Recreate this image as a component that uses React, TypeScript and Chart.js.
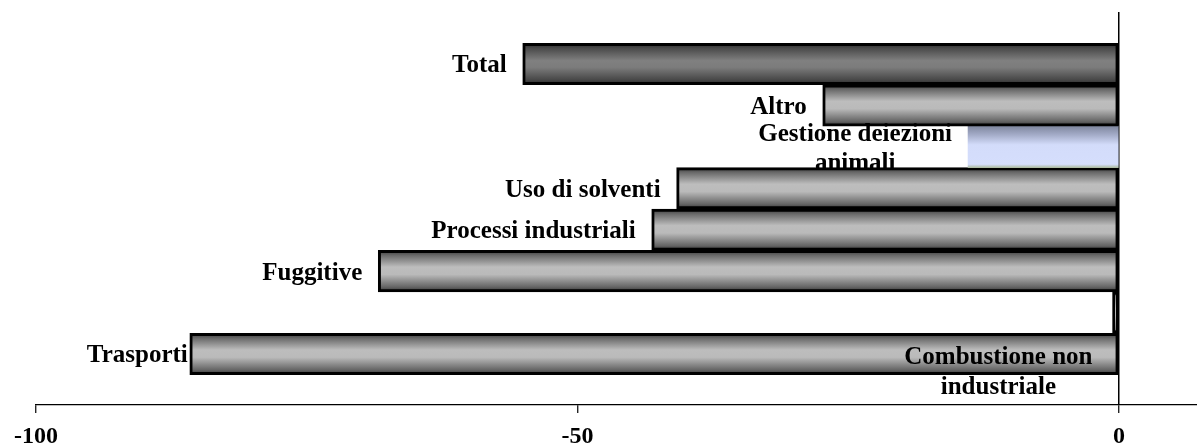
import React, { useEffect, useRef } from 'react';
import { Chart, registerables } from 'chart.js';

Chart.register(...registerables);

// Categories listed bottom-to-top (index 0 is the lowest bar)
const categories: string[][] = [
  ['Trasporti'],
  ['Combustione non', 'industriale'],
  ['Fuggitive'],
  ['Processi industriali'],
  ['Uso di solventi'],
  ['Gestione deiezioni', 'animali'],
  ['Altro'],
  ['Total'],
];
const values: number[] = [-85.8, -0.6, -68.4, -43.15, -40.85, -13.94, -27.36, -55.06];
const xTickValues: number[] = [-100, -50, 0];
const xMin = -100;
const xMax = 7.2;

const FONT = '"Liberation Serif", "Times New Roman", serif';

const barStyleOf = (name: string): 'gray' | 'dark' | 'blue' => {
  if (name === 'Total') return 'dark';
  if (name === 'Gestione deiezioni animali') return 'blue';
  return 'gray';
};

const labelAdjust: Record<string, { dx: number; dy: number }> = {
  Trasporti: { dx: 14, dy: 0 },
  'Combustione non industriale': { dx: -4, dy: 58 },
};

const App: React.FC = () => {
  const ref = useRef<HTMLCanvasElement | null>(null);

  useEffect(() => {
    if (!ref.current) return;

    const fill = (c: any) => {
      const chart = c.chart;
      const ys = chart.scales && chart.scales.y;
      const i = c.dataIndex;
      const name = categories[i] ? categories[i].join(' ') : '';
      const style = barStyleOf(name);
      if (!ys || !chart.chartArea || c.type !== 'data') return '#b0b0b0';
      const center = ys.getPixelForValue(i);
      const half = Math.abs(ys.getPixelForValue(0) - ys.getPixelForValue(1)) / 2;
      if (!isFinite(center) || !isFinite(half) || half <= 0) return '#b0b0b0';
      const g = chart.ctx.createLinearGradient(0, center - half, 0, center + half);
      if (style === 'gray') {
        g.addColorStop(0, '#3a3a3a');
        g.addColorStop(0.12, '#6a6a6a');
        g.addColorStop(0.4, '#bdbdbd');
        g.addColorStop(0.58, '#bababa');
        g.addColorStop(0.88, '#666666');
        g.addColorStop(1, '#333333');
      } else if (style === 'dark') {
        g.addColorStop(0, '#2a2a2a');
        g.addColorStop(0.12, '#4a4a4a');
        g.addColorStop(0.42, '#808080');
        g.addColorStop(0.58, '#7c7c7c');
        g.addColorStop(0.88, '#484848');
        g.addColorStop(1, '#282828');
      } else {
        g.addColorStop(0, '#7f879f');
        g.addColorStop(0.2, '#a2aac6');
        g.addColorStop(0.45, '#d3dcfa');
        g.addColorStop(0.92, '#d5defc');
        g.addColorStop(1, '#aebca4');
      }
      return g;
    };

    const labelPlugin = {
      id: 'barLabels',
      afterDatasetsDraw(chart: any) {
        const meta = chart.getDatasetMeta(0);
        const ctx = chart.ctx as CanvasRenderingContext2D;
        ctx.save();
        ctx.font = `bold 25px ${FONT}`;
        ctx.fillStyle = '#000';
        ctx.textBaseline = 'middle';
        ctx.textAlign = 'center';
        const gap = 16;
        const lh = 29.5;
        meta.data.forEach((bar: any, i: number) => {
          const lines = categories[i];
          const adj = labelAdjust[lines.join(' ')] || { dx: 0, dy: 0 };
          const w = Math.max(...lines.map((l) => ctx.measureText(l).width));
          const left = Math.min(bar.x, bar.base);
          const right = left - gap + adj.dx;
          const cx = right - w / 2;
          const cy = bar.y + 2 + adj.dy;
          lines.forEach((l, k) => {
            ctx.fillText(l, cx, cy + (k - (lines.length - 1) / 2) * lh);
          });
        });
        ctx.restore();
      },
    };

    const chart = new Chart(ref.current, {
      type: 'bar',
      data: {
        datasets: [
          {
            data: values.map((v, i) => ({ x: v, y: i })) as any,
            backgroundColor: fill as any,
            borderColor: '#000',
            borderWidth: ((c: any) =>
              barStyleOf(categories[c.dataIndex] ? categories[c.dataIndex].join(' ') : '') === 'blue' ? 0 : 3) as any,
            borderSkipped: false,
            barPercentage: 1,
            categoryPercentage: 1,
          },
        ],
      },
      options: {
        indexAxis: 'y',
        responsive: false,
        animation: false,
        devicePixelRatio: 1,
        layout: { padding: { top: 12, left: 36, right: 0, bottom: 0 } },
        plugins: { legend: { display: false }, tooltip: { enabled: false } },
        scales: {
          x: {
            type: 'linear',
            min: xMin,
            max: xMax,
            afterBuildTicks: (s: any) => {
              s.ticks = xTickValues.map((v) => ({ value: v }));
            },
            afterFit: (s: any) => {
              s.paddingLeft = 0;
              s.paddingRight = 0;
              s.height = 43;
            },
            grid: {
              color: (c: any) => (c.tick && c.tick.value === 0 ? '#000' : 'rgba(0,0,0,0)'),
              lineWidth: 1.5,
              tickColor: '#000',
              tickWidth: 1.2,
              tickLength: 8,
              drawOnChartArea: true,
            },
            border: { display: true, color: '#000', width: 1.2 },
            ticks: {
              color: '#000',
              font: { family: FONT, weight: 'bold', size: 24, lineHeight: 1 },
              padding: 12,
              maxRotation: 0,
              autoSkip: false,
            },
          },
          y: {
            type: 'linear',
            display: false,
            offset: false,
            grid: { offset: false },
            min: -1.23,
            max: 8.255,
          },
        },
      },
      plugins: [labelPlugin],
    } as any);

    return () => chart.destroy();
  }, []);

  return (
    <canvas
      ref={ref}
      width={1197}
      height={448}
      style={{ position: 'absolute', left: 0, top: 0, display: 'block', background: '#fff' }}
    />
  );
};

export default App;
